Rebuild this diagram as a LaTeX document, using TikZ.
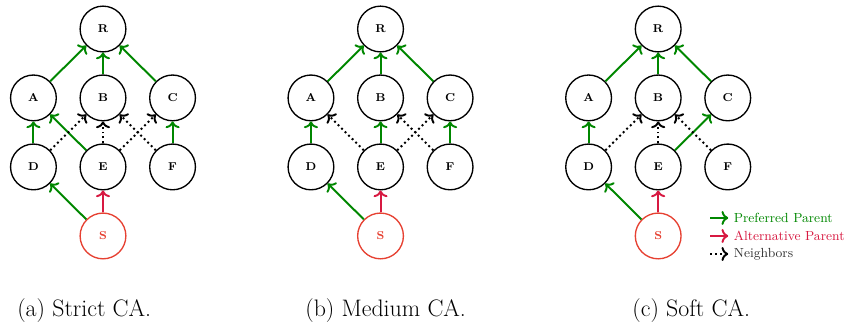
\documentclass[tikz,border=0pt]{standalone}
\usetikzlibrary{arrows.meta}
\definecolor{prefcolor}{RGB}{0,135,0}
\definecolor{altcolor}{RGB}{215,25,65}
\definecolor{srccolor}{RGB}{230,65,50}
\tikzset{
  vertex/.style={circle,draw,line width=0.9pt,minimum size=30.5pt,inner sep=0pt,font=\fontsize{7.6}{9}\selectfont\bfseries},
  source/.style={vertex,draw=srccolor,text=srccolor},
  pref/.style={->,prefcolor,line width=1.3pt},
  alt/.style={->,altcolor,line width=1.3pt},
  nbr/.style={->,dotted,line width=1.3pt},
  legend/.style={anchor=west,font=\fontsize{8.8}{10}\selectfont,inner sep=1pt},
  caption/.style={anchor=base west,inner sep=0pt,font=\fontsize{15.9}{19}\selectfont},
}
\begin{document}
\begin{tikzpicture}
\useasboundingbox (0,0) rectangle (19.82,7.66);

% Same seven-node layout in each of the three panels.
\foreach \p/\sx in {a/2.413,b/8.915,c/15.42}{
  \begin{scope}[xshift=\sx cm]
    \node[vertex] (\p R) at (0,6.98) {R};
    \node[vertex] (\p A) at (-1.63,5.366) {A};
    \node[vertex] (\p B) at (0,5.366) {B};
    \node[vertex] (\p C) at (1.63,5.366) {C};
    \node[vertex] (\p D) at (-1.63,3.749) {D};
    \node[vertex] (\p E) at (0,3.749) {E};
    \node[vertex] (\p F) at (1.63,3.749) {F};
    \node[source] (\p S) at (0,2.132) {S};
  \end{scope}
}

% (a) Strict CA.
\draw[pref] (aA)--(aR);
\draw[pref] (aB)--(aR);
\draw[pref] (aC)--(aR);
\draw[pref] (aD)--(aA);
\draw[pref] (aE)--(aA);
\draw[pref] (aF)--(aC);
\draw[nbr] (aD)--(aB);
\draw[nbr] (aE)--(aB);
\draw[nbr] (aE)--(aC);
\draw[nbr] (aF)--(aB);
\draw[pref] (aS)--(aD);
\draw[alt] (aS)--(aE);

% (b) Medium CA.
\draw[pref] (bA)--(bR);
\draw[pref] (bB)--(bR);
\draw[pref] (bC)--(bR);
\draw[pref] (bD)--(bA);
\draw[pref] (bE)--(bB);
\draw[pref] (bF)--(bC);
\draw[nbr] (bE)--(bA);
\draw[nbr] (bE)--(bC);
\draw[nbr] (bF)--(bB);
\draw[pref] (bS)--(bD);
\draw[alt] (bS)--(bE);

% (c) Soft CA.
\draw[pref] (cA)--(cR);
\draw[pref] (cB)--(cR);
\draw[pref] (cC)--(cR);
\draw[pref] (cD)--(cA);
\draw[pref] (cE)--(cC);
\draw[nbr] (cD)--(cB);
\draw[nbr] (cE)--(cB);
\draw[nbr] (cF)--(cB);
\draw[pref] (cS)--(cD);
\draw[alt] (cS)--(cE);

% Legend.
\coordinate (l1a) at (16.64,2.554); \coordinate (l1b) at (17.06,2.554);
\coordinate (l2a) at (16.64,2.132); \coordinate (l2b) at (17.06,2.132);
\coordinate (l3a) at (16.64,1.71);  \coordinate (l3b) at (17.06,1.71);
\draw[pref] (l1a)--(l1b);
\draw[alt] (l2a)--(l2b);
\draw[nbr] (l3a)--(l3b);
\node[legend,text=prefcolor] (lpref) at (17.15,2.554) {Preferred Parent};
\node[legend,text=altcolor] (lalt) at (17.15,2.132) {Alternative Parent};
\node[legend,text=black!80] (lnbr) at (17.15,1.71) {Neighbors};

% Captions.
\node[caption] (capa) at (0.398,0.234) {(a) Strict CA.};
\node[caption] (capb) at (7.146,0.234) {(b) Medium CA.};
\node[caption] (capc) at (14.81,0.234) {(c) Soft CA.};
\end{tikzpicture}
\end{document}
